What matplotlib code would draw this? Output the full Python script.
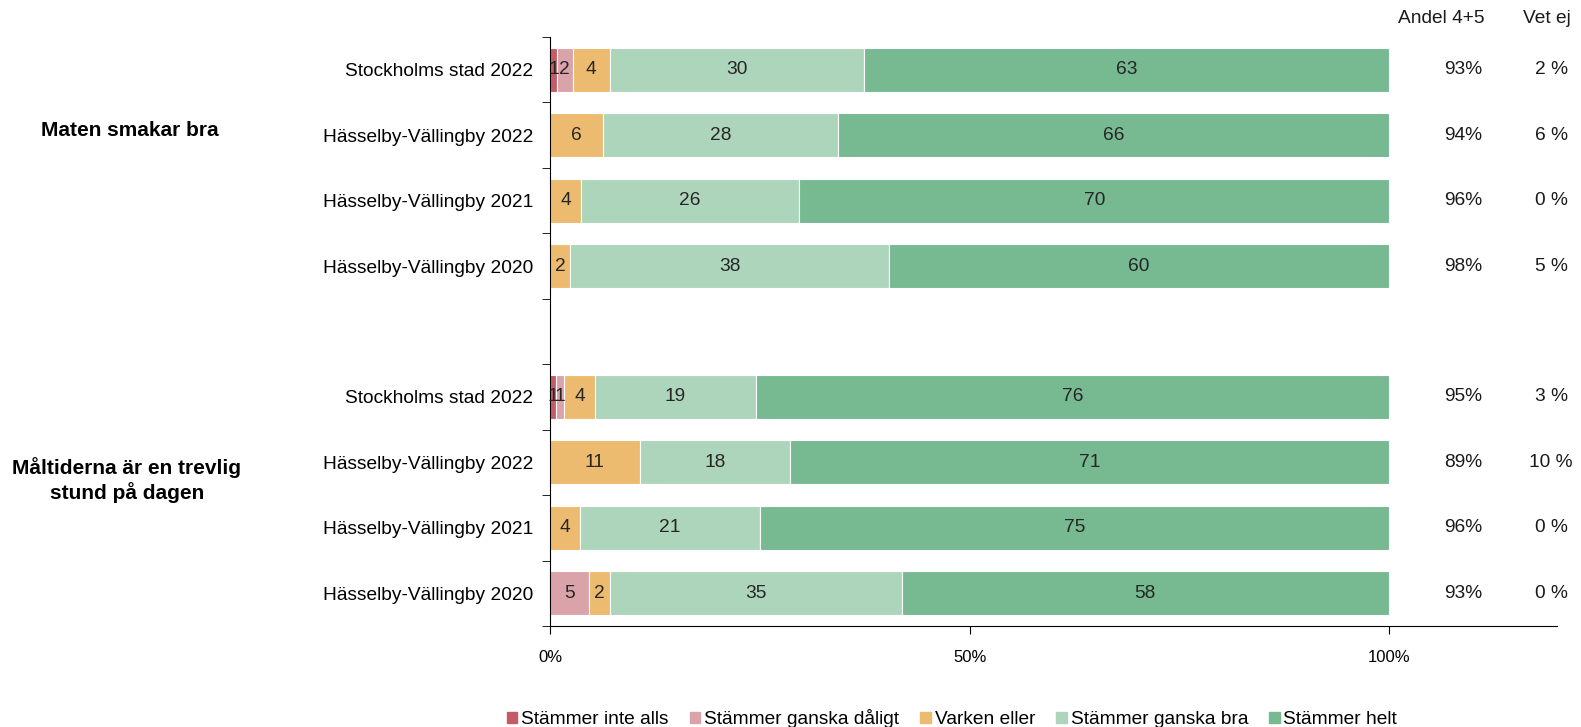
import numpy as np
import matplotlib
matplotlib.use("Agg")
import matplotlib.pyplot as plt
from matplotlib.patches import Patch

plt.rcParams['font.family'] = ['Liberation Sans', 'DejaVu Sans']

# rows from top to bottom, two question groups with an empty slot between
row_labels = ["Stockholms stad 2022", "Hässelby-Vällingby 2022",
              "Hässelby-Vällingby 2021", "Hässelby-Vällingby 2020",
              "Stockholms stad 2022", "Hässelby-Vällingby 2022",
              "Hässelby-Vällingby 2021", "Hässelby-Vällingby 2020"]
row_slots = [0, 1, 2, 3, 5, 6, 7, 8]

series_names = ["Stämmer inte alls", "Stämmer ganska dåligt", "Varken eller",
                "Stämmer ganska bra", "Stämmer helt"]
series_colors = ["#C45C67", "#DAA2A9", "#EDBB6F", "#ADD5BC", "#77B991"]

inte_alls = [0.8, 0, 0, 0, 0.7, 0, 0, 0]
ganska_daligt = [1.9, 0, 0, 0, 1.0, 0, 0, 4.7]
varken = [4.4, 6.3, 3.7, 2.4, 3.7, 10.7, 3.6, 2.4]
ganska_bra = [30.3, 28.0, 26.0, 38.0, 19.1, 17.9, 21.4, 34.8]
helt = [62.6, 65.7, 70.3, 59.6, 75.5, 71.4, 75.0, 58.1]

andel_45 = ["93%", "94%", "96%", "98%", "95%", "89%", "96%", "93%"]
vet_ej = ["2 %", "6 %", "0 %", "5 %", "3 %", "10 %", "0 %", "0 %"]

groups = ["Maten smakar bra", "Måltiderna är en trevlig\nstund på dagen"]

series = [inte_alls, ganska_daligt, varken, ganska_bra, helt]

fig = plt.figure(figsize=(15.81, 7.27), dpi=100)
ax = fig.add_axes([550 / 1581, 1 - 626 / 727, (1557 - 550) / 1581, (626 - 37) / 727])

left = np.zeros(len(row_slots))
for vals, col in zip(series, series_colors):
    vals = np.array(vals)
    ax.barh(row_slots, vals, left=left, height=0.67, color=col,
            edgecolor="white", linewidth=0.8)
    for y, l, v in zip(row_slots, left, vals):
        if v > 0:
            ax.text(l + v / 2, y, str(int(round(v))), ha="center", va="center",
                    fontsize=13.8, color="#262626")
    left += vals

for y, a, v in zip(row_slots, andel_45, vet_ej):
    ax.text(108.8, y, a, ha="center", va="center", fontsize=13.8, color="#1a1a1a")
    ax.text(119.3, y, v, ha="center", va="center", fontsize=13.8, color="#1a1a1a",
            clip_on=False)

# column headers above the plot area
ax.text(106.2, -0.78, "Andel 4+5", ha="center", va="center", fontsize=13.8,
        color="#1a1a1a", clip_on=False)
ax.text(118.8, -0.78, "Vet ej", ha="center", va="center", fontsize=13.8,
        color="#1a1a1a", clip_on=False)

ax.set_xlim(0, 120)
ax.set_ylim(8.5, -0.5)
ax.set_xticks([0, 50, 100])
ax.set_xticklabels(["0%", "50%", "100%"], fontsize=12)
ax.set_yticks(row_slots)
ax.set_yticklabels(row_labels, fontsize=13.8)
ax.set_yticks(np.arange(-0.5, 9, 1), minor=True)
ax.tick_params(axis="y", which="major", length=0, pad=12)
ax.tick_params(axis="y", which="minor", length=6, direction="out")
ax.tick_params(axis="x", length=6, direction="out", pad=11)
for s in ["top", "right"]:
    ax.spines[s].set_visible(False)

fig.text(130 / 1581, 1 - 131 / 727, groups[0], ha="center", va="center",
         fontsize=15, fontweight="bold")
fig.text(127 / 1581, 1 - 480 / 727, groups[1], ha="center", va="center",
         fontsize=15, fontweight="bold", linespacing=1.25)

handles = [Patch(color=c, label=n) for c, n in zip(series_colors, series_names)]
fig.legend(handles=handles, loc="center", bbox_to_anchor=(952 / 1581, 1 - 719 / 727),
           ncol=5, frameon=False, fontsize=13.8, handlelength=0.55, handleheight=0.55,
           handletextpad=0.2, columnspacing=1.1)

fig.savefig("out.png", dpi=100)
